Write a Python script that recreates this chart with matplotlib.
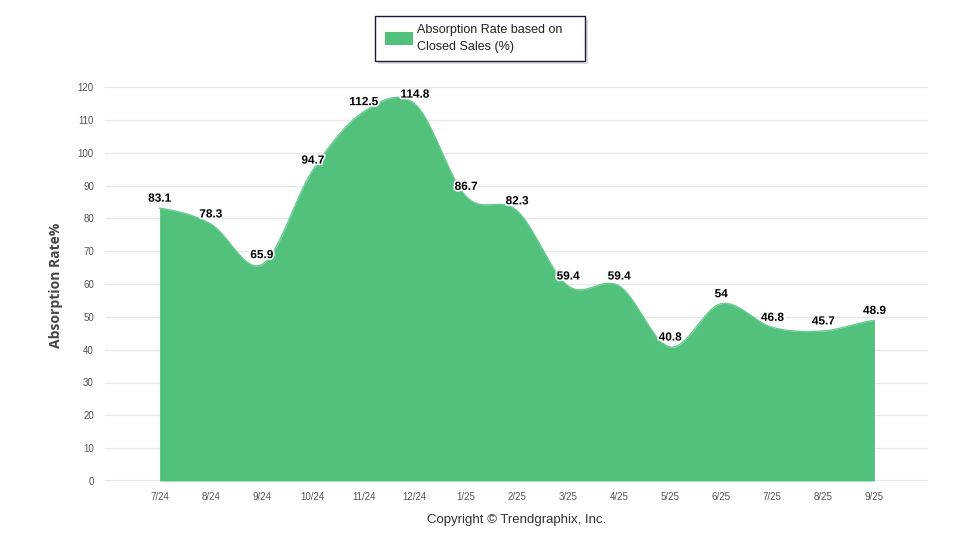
import numpy as np
import matplotlib
matplotlib.use("Agg")
import matplotlib.pyplot as plt
import matplotlib.patheffects as pe
from matplotlib.patches import Rectangle

months = ["7/24", "8/24", "9/24", "10/24", "11/24", "12/24", "1/25", "2/25",
          "3/25", "4/25", "5/25", "6/25", "7/25", "8/25", "9/25"]
rate = [83.1, 78.3, 65.9, 94.7, 112.5, 114.8, 86.7, 82.3,
        59.4, 59.4, 40.8, 54, 46.8, 45.7, 48.9]

green = "#52c17c"


def catmull_rom(xs, ys, steps=40):
    # smooth curve through every point (cardinal spline, tension 0)
    xs = np.asarray(xs, float)
    ys = np.asarray(ys, float)
    n = len(ys)
    m = np.zeros(n)
    m[1:-1] = (ys[2:] - ys[:-2]) / 2
    m[0] = (ys[1] - ys[0]) / 2
    m[-1] = (ys[-1] - ys[-2]) / 2
    t = np.linspace(0, 1, steps)
    h00 = 2 * t ** 3 - 3 * t ** 2 + 1
    h10 = t ** 3 - 2 * t ** 2 + t
    h01 = -2 * t ** 3 + 3 * t ** 2
    h11 = t ** 3 - t ** 2
    outx, outy = [xs[0]], [ys[0]]
    for i in range(n - 1):
        seg = h00 * ys[i] + h10 * m[i] + h01 * ys[i + 1] + h11 * m[i + 1]
        outx.extend((xs[i] + t * (xs[i + 1] - xs[i]))[1:])
        outy.extend(seg[1:])
    return np.array(outx), np.array(outy)


plt.rcParams["font.family"] = ["Liberation Sans", "DejaVu Sans"]

fig = plt.figure(figsize=(9.6, 5.5), dpi=100)
ax = fig.add_axes([105 / 960, 1 - 481 / 550, 823 / 960, 394 / 550])

x = np.arange(len(months))
sx, sy = catmull_rom(x, rate)
ax.fill_between(sx, 0, sy, color=green, lw=0, zorder=2)
ax.plot(sx, sy, color="#6bcb91", lw=1, zorder=3)

for xi, v in zip(x, rate):
    ax.annotate("%g" % v, (xi, v), xytext=(0, 2.5), textcoords="offset points",
                ha="center", va="bottom", fontsize=8.5, fontweight="bold",
                color="black", zorder=5,
                path_effects=[pe.withStroke(linewidth=2.5, foreground="white")])

ax.set_xlim(-1.07, 15.05)
ax.set_ylim(0, 120)
ax.set_yticks(range(0, 121, 10))
ax.set_xticks(x)
ax.set_xticklabels(months)
ax.grid(axis="y", color="#e8e8e8", lw=1, zorder=0)
for s in ax.spines.values():
    s.set_visible(False)
ax.axhline(0, color="#dfe6ee", lw=1.5, zorder=1)
ax.tick_params(axis="both", length=0, labelsize=7, labelcolor="#555555")
ax.tick_params(axis="x", pad=8)
ax.tick_params(axis="y", pad=8)
ax.set_ylabel("Absorption Rate%", fontsize=10, fontweight="bold",
              color="#444444", family=["Open Sans", "DejaVu Sans"])
ax.yaxis.set_label_coords(-0.051, 0.497)

fig.text(517 / 960, 1 - 520 / 550, "Copyright \u00a9 Trendgraphix, Inc.",
         ha="center", va="center", fontsize=9.5, color="#333333")

# legend box
fig.patches.append(Rectangle((378 / 960, 1 - 64 / 550), 210 / 960, 45 / 550,
                             transform=fig.transFigure, facecolor="#bbbbbb",
                             edgecolor="none", alpha=0.5, zorder=1))
fig.patches.append(Rectangle((375 / 960, 1 - 61 / 550), 210 / 960, 45 / 550,
                             transform=fig.transFigure, facecolor="white",
                             edgecolor="#1a1a3a", lw=1, zorder=2))
fig.patches.append(Rectangle((385 / 960, 1 - 45 / 550), 28 / 960, 13 / 550,
                             transform=fig.transFigure, facecolor=green,
                             edgecolor="none", zorder=3))
fig.text(417 / 960, 1 - 38.5 / 550, "Absorption Rate based on\nClosed Sales (%)",
         ha="left", va="center", fontsize=9, color="#222222",
         linespacing=1.45, zorder=4)

fig.savefig("out.png", dpi=100)
